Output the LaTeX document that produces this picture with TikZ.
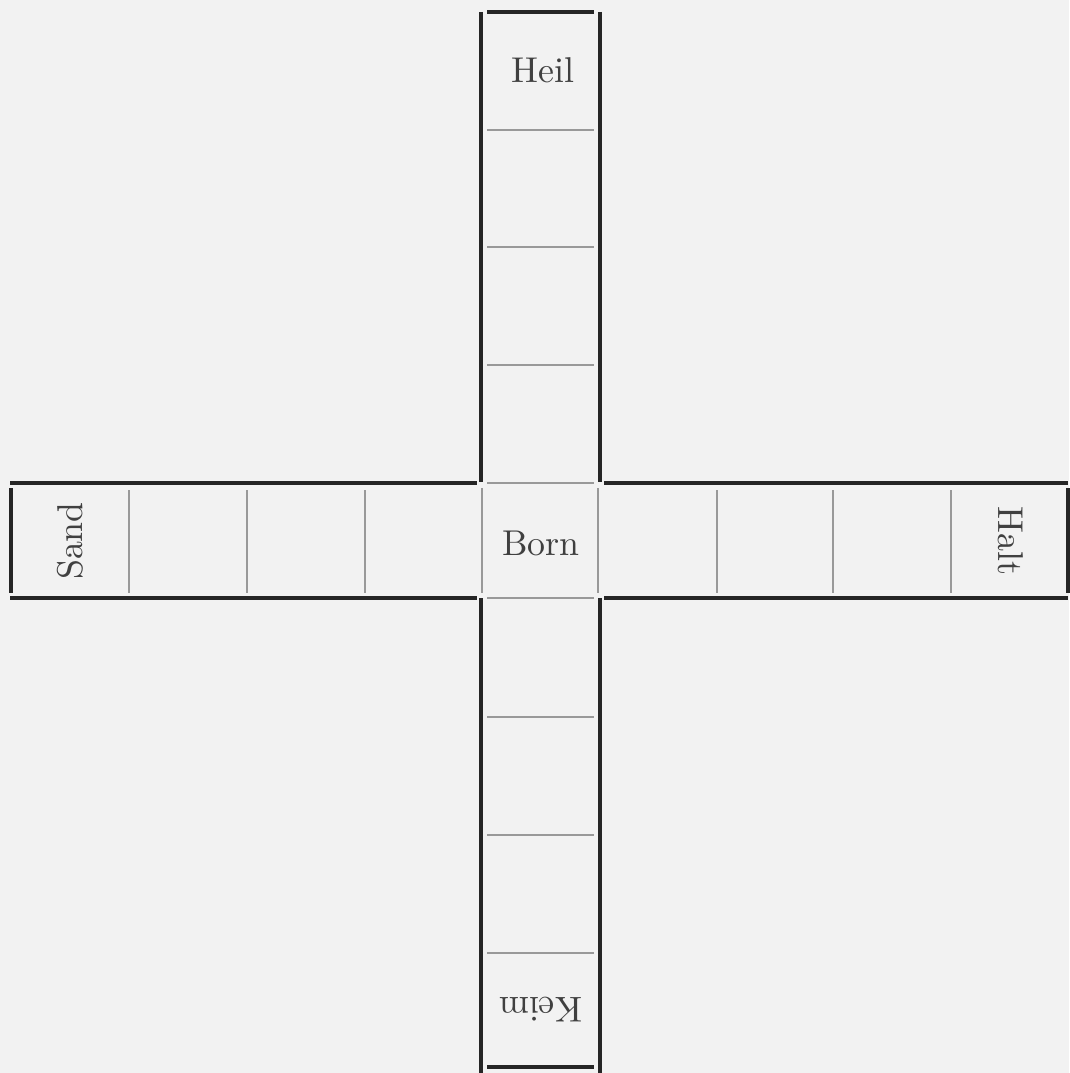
\documentclass[tikz,border=0pt]{standalone}
\usepackage{tikz}

\begin{document}
\begin{tikzpicture}[
  x=0.01cm, y=-0.01cm,
  thickline/.style={draw=black!85, line width=1.1pt },
  thinline/.style={draw=black!40, line width=0.3pt },
  word/.style={font=\fontsize{10.2}{12}\selectfont, text=black!75, inner sep=0pt },
]

%PAPER
\filldraw[fill=black!5, draw=none] (0,0) rectangle (1069,1073);
\useasboundingbox (0,0) rectangle (1069,1073);

%%COLUMN (thick frame)
\draw[thickline] (481,12) -- (481,482);
\draw[thickline] (481,598) -- (481,1073);
\draw[thickline] (600,12) -- (600,482);
\draw[thickline] (600,598) -- (600,1073);
\draw[thickline] (487,12) -- (594,12);
\draw[thickline] (487,1067) -- (594,1067);

%%ROW (thick frame)
\draw[thickline] (10,483) -- (477,483);
\draw[thickline] (604,483) -- (1068,483);
\draw[thickline] (10,598) -- (477,598);
\draw[thickline] (604,598) -- (1068,598);
\draw[thickline] (11,488) -- (11,593);
\draw[thickline] (1068,488) -- (1068,593);

%%COLUMN cells
\draw[thinline] (487,130) -- (594,130);
\draw[thinline] (487,247) -- (594,247);
\draw[thinline] (487,365) -- (594,365);
\draw[thinline] (487,717) -- (594,717);
\draw[thinline] (487,835) -- (594,835);
\draw[thinline] (487,953) -- (594,953);

%%ROW cells
\draw[thinline] (129,490) -- (129,593);
\draw[thinline] (247,490) -- (247,593);
\draw[thinline] (365,490) -- (365,593);
\draw[thinline] (717,490) -- (717,593);
\draw[thinline] (833,490) -- (833,593);
\draw[thinline] (951,490) -- (951,593);

%%CENTRE cell
\draw[thinline] (487,483) -- (594,483);
\draw[thinline] (487,598) -- (594,598);
\draw[thinline] (482,488) -- (482,593);
\draw[thinline] (598,488) -- (598,593);

%%WORDS
\node[word] (heil) at (543,70) {Heil};
\node[word] (born) at (541,543) {Born};
\node[word, rotate=90] (sand) at (70,541) {Sand};
\node[word, rotate=-90] (halt) at (1011,541) {Halt};
\node[word, rotate=180] (keim) at (541,1010) {Keim};

\end{tikzpicture}
\end{document}
